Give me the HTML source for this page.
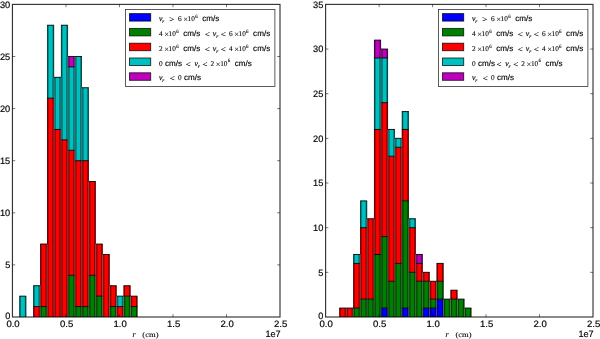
<!DOCTYPE html>
<html><head><meta charset="utf-8"><title>histograms</title>
<style>
html,body{margin:0;padding:0;background:#fff;}
body{width:600px;height:339px;overflow:hidden;font-family:"Liberation Sans",sans-serif;}
svg{display:block;}
text{fill:#000;}
.tk{font-family:"Liberation Sans",sans-serif;font-size:9.2px;stroke:#000;stroke-width:0.18px;}
.sf{font-family:"Liberation Sans",sans-serif;font-size:8.0px;stroke:#000;stroke-width:0.15px;}
.mr{font-family:"Liberation Serif",serif;font-size:7.3px;stroke:#000;stroke-width:0.1px;}
.rel{font-family:"Liberation Serif",serif;font-size:8.2px;stroke:#000;stroke-width:0.12px;}
.mul{font-family:"Liberation Serif",serif;font-size:8.4px;stroke:#000;stroke-width:0.12px;}
.mrs{font-family:"Liberation Serif",serif;font-size:5.0px;stroke:#000;stroke-width:0.08px;}
.mi{font-family:"Liberation Serif",serif;font-style:italic;font-size:7.8px;stroke:#000;stroke-width:0.15px;}
.mis{font-family:"Liberation Serif",serif;font-style:italic;font-size:5.1px;stroke:#000;stroke-width:0.15px;}
</style></head><body>
<svg width="600" height="339" viewBox="0 0 600 339">
<defs><filter id="bl" x="-2%" y="-2%" width="104%" height="104%"><feGaussianBlur stdDeviation="0.45"/></filter><filter id="bt" x="-2%" y="-2%" width="104%" height="104%"><feGaussianBlur stdDeviation="0.22"/></filter></defs>
<rect width="600" height="339" fill="#fff"/>
<g filter="url(#bl)">
<rect x="19.3" y="296.16" width="6.95" height="20.84" fill="#00bfbf"/>
<rect x="33.2" y="306.58" width="6.95" height="10.42" fill="#ff0000"/>
<rect x="33.2" y="285.74" width="6.95" height="20.84" fill="#00bfbf"/>
<rect x="40.15" y="306.58" width="6.95" height="10.42" fill="#008000"/>
<rect x="40.15" y="244.06" width="6.95" height="62.52" fill="#ff0000"/>
<rect x="47.1" y="98.18" width="6.95" height="218.82" fill="#ff0000"/>
<rect x="47.1" y="25.24" width="6.95" height="72.94" fill="#00bfbf"/>
<rect x="54.05" y="129.44" width="6.95" height="187.56" fill="#ff0000"/>
<rect x="54.05" y="77.34" width="6.95" height="52.1" fill="#00bfbf"/>
<rect x="61" y="139.86" width="6.95" height="177.14" fill="#ff0000"/>
<rect x="61" y="25.24" width="6.95" height="114.62" fill="#00bfbf"/>
<rect x="67.95" y="275.32" width="6.95" height="41.68" fill="#008000"/>
<rect x="67.95" y="150.28" width="6.95" height="125.04" fill="#ff0000"/>
<rect x="67.95" y="66.92" width="6.95" height="83.36" fill="#00bfbf"/>
<rect x="67.95" y="56.5" width="6.95" height="10.42" fill="#bf00bf"/>
<rect x="74.9" y="306.58" width="6.95" height="10.42" fill="#008000"/>
<rect x="74.9" y="160.7" width="6.95" height="145.88" fill="#ff0000"/>
<rect x="74.9" y="56.5" width="6.95" height="104.2" fill="#00bfbf"/>
<rect x="81.85" y="306.58" width="6.95" height="10.42" fill="#008000"/>
<rect x="81.85" y="160.7" width="6.95" height="145.88" fill="#ff0000"/>
<rect x="81.85" y="87.76" width="6.95" height="72.94" fill="#00bfbf"/>
<rect x="88.8" y="275.32" width="6.95" height="41.68" fill="#008000"/>
<rect x="88.8" y="181.54" width="6.95" height="93.78" fill="#ff0000"/>
<rect x="95.75" y="296.16" width="6.95" height="20.84" fill="#008000"/>
<rect x="95.75" y="244.06" width="6.95" height="52.1" fill="#ff0000"/>
<rect x="102.7" y="254.48" width="6.95" height="62.52" fill="#ff0000"/>
<rect x="109.65" y="306.58" width="6.95" height="10.42" fill="#008000"/>
<rect x="109.65" y="285.74" width="6.95" height="20.84" fill="#ff0000"/>
<rect x="116.6" y="306.58" width="6.95" height="10.42" fill="#ff0000"/>
<rect x="116.6" y="296.16" width="6.95" height="10.42" fill="#00bfbf"/>
<rect x="123.55" y="296.16" width="6.95" height="20.84" fill="#008000"/>
<rect x="123.55" y="285.74" width="6.95" height="10.42" fill="#ff0000"/>
<rect x="130.5" y="306.58" width="6.95" height="10.42" fill="#008000"/>
<rect x="130.5" y="296.16" width="6.95" height="10.42" fill="#ff0000"/>
<path d="M39.3 317V285.74M41 317V285.74M46.25 317V244.06M47.95 317V244.06M53.2 317V77.34M54.9 317V77.34M60.15 317V77.34M61.85 317V77.34M67.1 317V56.5M68.8 317V56.5M74.05 317V56.5M75.75 317V56.5M81 317V87.76M82.7 317V87.76M87.95 317V181.54M89.65 317V181.54M94.9 317V244.06M96.6 317V244.06M101.85 317V254.48M103.55 317V254.48M108.8 317V285.74M110.5 317V285.74M115.75 317V296.16M117.45 317V296.16M122.7 317V296.16M124.4 317V296.16M129.65 317V296.16M131.35 317V296.16" stroke="#000" stroke-width="1.7" stroke-opacity="0.45" fill="none"/>
<path d="M19.9 317V296.16M25.65 317V296.16M33.8 317V285.74M40.75 285.74V244.06M47.7 244.06V25.24M53.45 77.34V25.24M61.6 77.34V25.24M67.35 56.5V25.24M81.25 87.76V56.5M88.2 181.54V87.76M95.15 244.06V181.54M102.1 254.48V244.06M109.05 285.74V254.48M116 296.16V285.74M124.15 296.16V285.74M129.9 296.16V285.74M136.85 317V296.16" stroke="#000" stroke-width="1.5" stroke-opacity="0.62" fill="none"/>
<path d="M19.3 296.16h6.95M33.2 306.58h6.95M33.2 285.74h6.95M40.15 306.58h6.95M40.15 244.06h6.95M47.1 98.18h6.95M47.1 25.24h6.95M54.05 129.44h6.95M54.05 77.34h6.95M61 139.86h6.95M61 25.24h6.95M67.95 275.32h6.95M67.95 150.28h6.95M67.95 66.92h6.95M67.95 56.5h6.95M74.9 306.58h6.95M74.9 160.7h6.95M74.9 56.5h6.95M81.85 306.58h6.95M81.85 160.7h6.95M81.85 87.76h6.95M88.8 275.32h6.95M88.8 181.54h6.95M95.75 296.16h6.95M95.75 244.06h6.95M102.7 254.48h6.95M109.65 306.58h6.95M109.65 285.74h6.95M116.6 306.58h6.95M116.6 296.16h6.95M123.55 296.16h6.95M123.55 285.74h6.95M130.5 306.58h6.95M130.5 296.16h6.95" stroke="#000" stroke-width="1.0" stroke-opacity="0.9" fill="none"/>
<path d="M40.15 317V285.74M47.1 317V244.06M54.05 317V77.34M61 317V77.34M67.95 317V56.5M74.9 317V56.5M81.85 317V87.76M88.8 317V181.54M95.75 317V244.06M102.7 317V254.48M109.65 317V285.74M116.6 317V296.16M123.55 317V296.16M130.5 317V296.16" stroke="#fff" stroke-width="0.6" stroke-opacity="0.3" fill="none"/>
<rect x="339.3" y="308.07" width="6.95" height="8.93" fill="#ff0000"/>
<rect x="346.25" y="308.07" width="6.95" height="8.93" fill="#ff0000"/>
<rect x="353.2" y="308.07" width="6.95" height="8.93" fill="#008000"/>
<rect x="353.2" y="263.41" width="6.95" height="44.66" fill="#ff0000"/>
<rect x="353.2" y="254.48" width="6.95" height="8.93" fill="#00bfbf"/>
<rect x="360.15" y="299.14" width="6.95" height="17.86" fill="#008000"/>
<rect x="360.15" y="227.69" width="6.95" height="71.45" fill="#ff0000"/>
<rect x="360.15" y="200.89" width="6.95" height="26.79" fill="#00bfbf"/>
<rect x="367.1" y="299.14" width="6.95" height="17.86" fill="#008000"/>
<rect x="367.1" y="218.75" width="6.95" height="80.38" fill="#ff0000"/>
<rect x="374.05" y="254.48" width="6.95" height="62.52" fill="#008000"/>
<rect x="374.05" y="129.44" width="6.95" height="125.04" fill="#ff0000"/>
<rect x="374.05" y="57.99" width="6.95" height="71.45" fill="#00bfbf"/>
<rect x="374.05" y="40.13" width="6.95" height="17.86" fill="#bf00bf"/>
<rect x="381" y="308.07" width="6.95" height="8.93" fill="#0000ff"/>
<rect x="381" y="236.62" width="6.95" height="71.45" fill="#008000"/>
<rect x="381" y="102.65" width="6.95" height="133.97" fill="#ff0000"/>
<rect x="381" y="57.99" width="6.95" height="44.66" fill="#00bfbf"/>
<rect x="381" y="49.06" width="6.95" height="8.93" fill="#bf00bf"/>
<rect x="387.95" y="281.27" width="6.95" height="35.73" fill="#008000"/>
<rect x="387.95" y="156.23" width="6.95" height="125.04" fill="#ff0000"/>
<rect x="387.95" y="129.44" width="6.95" height="26.79" fill="#00bfbf"/>
<rect x="394.9" y="263.41" width="6.95" height="53.59" fill="#008000"/>
<rect x="394.9" y="147.3" width="6.95" height="116.11" fill="#ff0000"/>
<rect x="394.9" y="138.37" width="6.95" height="8.93" fill="#00bfbf"/>
<rect x="401.85" y="308.07" width="6.95" height="8.93" fill="#0000ff"/>
<rect x="401.85" y="200.89" width="6.95" height="107.18" fill="#008000"/>
<rect x="401.85" y="129.44" width="6.95" height="71.45" fill="#ff0000"/>
<rect x="401.85" y="111.58" width="6.95" height="17.86" fill="#00bfbf"/>
<rect x="408.8" y="272.34" width="6.95" height="44.66" fill="#008000"/>
<rect x="408.8" y="227.69" width="6.95" height="44.66" fill="#ff0000"/>
<rect x="408.8" y="218.75" width="6.95" height="8.93" fill="#00bfbf"/>
<rect x="415.75" y="281.27" width="6.95" height="35.73" fill="#008000"/>
<rect x="415.75" y="263.41" width="6.95" height="17.86" fill="#ff0000"/>
<rect x="415.75" y="254.48" width="6.95" height="8.93" fill="#bf00bf"/>
<rect x="422.7" y="308.07" width="6.95" height="8.93" fill="#0000ff"/>
<rect x="422.7" y="281.27" width="6.95" height="26.79" fill="#008000"/>
<rect x="422.7" y="272.34" width="6.95" height="8.93" fill="#ff0000"/>
<rect x="429.65" y="308.07" width="6.95" height="8.93" fill="#0000ff"/>
<rect x="429.65" y="299.14" width="6.95" height="8.93" fill="#008000"/>
<rect x="429.65" y="281.27" width="6.95" height="17.86" fill="#ff0000"/>
<rect x="436.6" y="299.14" width="6.95" height="17.86" fill="#0000ff"/>
<rect x="436.6" y="281.27" width="6.95" height="17.86" fill="#008000"/>
<rect x="436.6" y="263.41" width="6.95" height="17.86" fill="#ff0000"/>
<rect x="443.55" y="299.14" width="6.95" height="17.86" fill="#008000"/>
<rect x="450.5" y="299.14" width="6.95" height="17.86" fill="#008000"/>
<rect x="450.5" y="290.21" width="6.95" height="8.93" fill="#ff0000"/>
<rect x="457.45" y="299.14" width="6.95" height="17.86" fill="#008000"/>
<rect x="464.4" y="308.07" width="6.95" height="8.93" fill="#008000"/>
<path d="M345.4 317V308.07M347.1 317V308.07M352.35 317V308.07M354.05 317V308.07M359.3 317V254.48M361 317V254.48M366.25 317V218.75M367.95 317V218.75M373.2 317V218.75M374.9 317V218.75M380.15 317V49.06M381.85 317V49.06M387.1 317V129.44M388.8 317V129.44M394.05 317V138.37M395.75 317V138.37M401 317V138.37M402.7 317V138.37M407.95 317V218.75M409.65 317V218.75M414.9 317V254.48M416.6 317V254.48M421.85 317V272.34M423.55 317V272.34M428.8 317V281.27M430.5 317V281.27M435.75 317V281.27M437.45 317V281.27M442.7 317V299.14M444.4 317V299.14M449.65 317V299.14M451.35 317V299.14M456.6 317V299.14M458.3 317V299.14M463.55 317V308.07M465.25 317V308.07" stroke="#000" stroke-width="1.7" stroke-opacity="0.45" fill="none"/>
<path d="M339.9 317V308.07M353.8 308.07V254.48M360.75 254.48V200.89M366.5 218.75V200.89M374.65 218.75V40.13M380.4 49.06V40.13M387.35 129.44V49.06M394.3 138.37V129.44M402.45 138.37V111.58M408.2 218.75V111.58M415.15 254.48V218.75M422.1 272.34V254.48M429.05 281.27V272.34M437.2 281.27V263.41M442.95 299.14V263.41M451.1 299.14V290.21M456.85 299.14V290.21M463.8 308.07V299.14M470.75 317V308.07" stroke="#000" stroke-width="1.5" stroke-opacity="0.62" fill="none"/>
<path d="M339.3 308.07h6.95M346.25 308.07h6.95M353.2 308.07h6.95M353.2 263.41h6.95M353.2 254.48h6.95M360.15 299.14h6.95M360.15 227.69h6.95M360.15 200.89h6.95M367.1 299.14h6.95M367.1 218.75h6.95M374.05 254.48h6.95M374.05 129.44h6.95M374.05 57.99h6.95M374.05 40.13h6.95M381 308.07h6.95M381 236.62h6.95M381 102.65h6.95M381 57.99h6.95M381 49.06h6.95M387.95 281.27h6.95M387.95 156.23h6.95M387.95 129.44h6.95M394.9 263.41h6.95M394.9 147.3h6.95M394.9 138.37h6.95M401.85 308.07h6.95M401.85 200.89h6.95M401.85 129.44h6.95M401.85 111.58h6.95M408.8 272.34h6.95M408.8 227.69h6.95M408.8 218.75h6.95M415.75 281.27h6.95M415.75 263.41h6.95M415.75 254.48h6.95M422.7 308.07h6.95M422.7 281.27h6.95M422.7 272.34h6.95M429.65 308.07h6.95M429.65 299.14h6.95M429.65 281.27h6.95M436.6 299.14h6.95M436.6 281.27h6.95M436.6 263.41h6.95M443.55 299.14h6.95M450.5 299.14h6.95M450.5 290.21h6.95M457.45 299.14h6.95M464.4 308.07h6.95" stroke="#000" stroke-width="1.0" stroke-opacity="0.9" fill="none"/>
<path d="M346.25 317V308.07M353.2 317V308.07M360.15 317V254.48M367.1 317V218.75M374.05 317V218.75M381 317V49.06M387.95 317V129.44M394.9 317V138.37M401.85 317V138.37M408.8 317V218.75M415.75 317V254.48M422.7 317V272.34M429.65 317V281.27M436.6 317V281.27M443.55 317V299.14M450.5 317V299.14M457.45 317V299.14M464.4 317V308.07" stroke="#fff" stroke-width="0.6" stroke-opacity="0.3" fill="none"/>
<rect x="12.45" y="4.4" width="267.55" height="312.6" fill="none" stroke="#000" stroke-width="1.15" stroke-opacity="0.8"/>
<path d="M65.96 317v-2.8M65.96 4.4v2.8M119.47 317v-2.8M119.47 4.4v2.8M172.98 317v-2.8M172.98 4.4v2.8M226.49 317v-2.8M226.49 4.4v2.8M12.45 264.9h2.8M280 264.9h-2.8M12.45 212.8h2.8M280 212.8h-2.8M12.45 160.7h2.8M280 160.7h-2.8M12.45 108.6h2.8M280 108.6h-2.8M12.45 56.5h2.8M280 56.5h-2.8" stroke="#000" stroke-width="0.6" stroke-opacity="0.9" fill="none"/>
<rect x="325.6" y="4.4" width="267.4" height="312.6" fill="none" stroke="#000" stroke-width="1.15" stroke-opacity="0.8"/>
<path d="M379.08 317v-2.8M379.08 4.4v2.8M432.56 317v-2.8M432.56 4.4v2.8M486.04 317v-2.8M486.04 4.4v2.8M539.52 317v-2.8M539.52 4.4v2.8M325.6 272.34h2.8M593 272.34h-2.8M325.6 227.69h2.8M593 227.69h-2.8M325.6 183.03h2.8M593 183.03h-2.8M325.6 138.37h2.8M593 138.37h-2.8M325.6 93.71h2.8M593 93.71h-2.8M325.6 49.06h2.8M593 49.06h-2.8" stroke="#000" stroke-width="0.6" stroke-opacity="0.9" fill="none"/>
<rect x="125.5" y="9.4" width="149.4" height="77.1" fill="#fff" stroke="#000" stroke-width="0.75" stroke-opacity="0.85"/>
<rect x="129.5" y="13.6" width="21.2" height="7.5" fill="#0000ff" stroke="#000" stroke-width="0.9" stroke-opacity="0.8"/>
<rect x="129.5" y="28.4" width="21.2" height="7.5" fill="#008000" stroke="#000" stroke-width="0.9" stroke-opacity="0.8"/>
<rect x="129.5" y="43.2" width="21.2" height="7.5" fill="#ff0000" stroke="#000" stroke-width="0.9" stroke-opacity="0.8"/>
<rect x="129.5" y="58" width="21.2" height="7.5" fill="#00bfbf" stroke="#000" stroke-width="0.9" stroke-opacity="0.8"/>
<rect x="129.5" y="72.8" width="21.2" height="7.5" fill="#bf00bf" stroke="#000" stroke-width="0.9" stroke-opacity="0.8"/>
<rect x="438.5" y="9.4" width="149.4" height="77.1" fill="#fff" stroke="#000" stroke-width="0.75" stroke-opacity="0.85"/>
<rect x="442.5" y="13.6" width="21.2" height="7.5" fill="#0000ff" stroke="#000" stroke-width="0.9" stroke-opacity="0.8"/>
<rect x="442.5" y="28.4" width="21.2" height="7.5" fill="#008000" stroke="#000" stroke-width="0.9" stroke-opacity="0.8"/>
<rect x="442.5" y="43.2" width="21.2" height="7.5" fill="#ff0000" stroke="#000" stroke-width="0.9" stroke-opacity="0.8"/>
<rect x="442.5" y="58" width="21.2" height="7.5" fill="#00bfbf" stroke="#000" stroke-width="0.9" stroke-opacity="0.8"/>
<rect x="442.5" y="72.8" width="21.2" height="7.5" fill="#bf00bf" stroke="#000" stroke-width="0.9" stroke-opacity="0.8"/>
</g>
<g filter="url(#bt)" text-rendering="geometricPrecision">
<text x="13.05" y="326.7" text-anchor="middle" textLength="13.3" lengthAdjust="spacingAndGlyphs" class="tk">0.0</text>
<text x="66.56" y="326.7" text-anchor="middle" textLength="13.3" lengthAdjust="spacingAndGlyphs" class="tk">0.5</text>
<text x="120.07" y="326.7" text-anchor="middle" textLength="13.3" lengthAdjust="spacingAndGlyphs" class="tk">1.0</text>
<text x="173.58" y="326.7" text-anchor="middle" textLength="13.3" lengthAdjust="spacingAndGlyphs" class="tk">1.5</text>
<text x="227.09" y="326.7" text-anchor="middle" textLength="13.3" lengthAdjust="spacingAndGlyphs" class="tk">2.0</text>
<text x="280.6" y="326.7" text-anchor="middle" textLength="13.3" lengthAdjust="spacingAndGlyphs" class="tk">2.5</text>
<text x="10.25" y="318.7" text-anchor="end" textLength="5.1" lengthAdjust="spacingAndGlyphs" class="tk">0</text>
<text x="10.25" y="268.15" text-anchor="end" textLength="5.1" lengthAdjust="spacingAndGlyphs" class="tk">5</text>
<text x="10.25" y="216.05" text-anchor="end" textLength="10.3" lengthAdjust="spacingAndGlyphs" class="tk">10</text>
<text x="10.25" y="163.95" text-anchor="end" textLength="10.3" lengthAdjust="spacingAndGlyphs" class="tk">15</text>
<text x="10.25" y="111.85" text-anchor="end" textLength="10.3" lengthAdjust="spacingAndGlyphs" class="tk">20</text>
<text x="10.25" y="59.75" text-anchor="end" textLength="10.3" lengthAdjust="spacingAndGlyphs" class="tk">25</text>
<text x="10.25" y="7.65" text-anchor="end" textLength="10.3" lengthAdjust="spacingAndGlyphs" class="tk">30</text>
<text x="280.7" y="336.9" text-anchor="end" textLength="15.2" lengthAdjust="spacingAndGlyphs" class="tk">1e7</text>
<text x="132.42" y="336.8" class="mi">r</text>
<text x="142.32" y="336.7" class="mr" textLength="16.2" lengthAdjust="spacingAndGlyphs">(cm)</text>
<text x="326.2" y="326.7" text-anchor="middle" textLength="13.3" lengthAdjust="spacingAndGlyphs" class="tk">0.0</text>
<text x="379.68" y="326.7" text-anchor="middle" textLength="13.3" lengthAdjust="spacingAndGlyphs" class="tk">0.5</text>
<text x="433.16" y="326.7" text-anchor="middle" textLength="13.3" lengthAdjust="spacingAndGlyphs" class="tk">1.0</text>
<text x="486.64" y="326.7" text-anchor="middle" textLength="13.3" lengthAdjust="spacingAndGlyphs" class="tk">1.5</text>
<text x="540.12" y="326.7" text-anchor="middle" textLength="13.3" lengthAdjust="spacingAndGlyphs" class="tk">2.0</text>
<text x="593.6" y="326.7" text-anchor="middle" textLength="13.3" lengthAdjust="spacingAndGlyphs" class="tk">2.5</text>
<text x="323.4" y="318.7" text-anchor="end" textLength="5.1" lengthAdjust="spacingAndGlyphs" class="tk">0</text>
<text x="323.4" y="275.59" text-anchor="end" textLength="5.1" lengthAdjust="spacingAndGlyphs" class="tk">5</text>
<text x="323.4" y="230.94" text-anchor="end" textLength="10.3" lengthAdjust="spacingAndGlyphs" class="tk">10</text>
<text x="323.4" y="186.28" text-anchor="end" textLength="10.3" lengthAdjust="spacingAndGlyphs" class="tk">15</text>
<text x="323.4" y="141.62" text-anchor="end" textLength="10.3" lengthAdjust="spacingAndGlyphs" class="tk">20</text>
<text x="323.4" y="96.96" text-anchor="end" textLength="10.3" lengthAdjust="spacingAndGlyphs" class="tk">25</text>
<text x="323.4" y="52.31" text-anchor="end" textLength="10.3" lengthAdjust="spacingAndGlyphs" class="tk">30</text>
<text x="323.4" y="7.65" text-anchor="end" textLength="10.3" lengthAdjust="spacingAndGlyphs" class="tk">35</text>
<text x="593.7" y="336.9" text-anchor="end" textLength="15.2" lengthAdjust="spacingAndGlyphs" class="tk">1e7</text>
<text x="445.5" y="336.8" class="mi">r</text>
<text x="455.4" y="336.7" class="mr" textLength="16.2" lengthAdjust="spacingAndGlyphs">(cm)</text>
<text x="159" y="21.1" class="mi">v</text>
<text x="162.35" y="23.2" class="mis">r</text>
<text x="169.25" y="22.1" class="rel" textLength="5.0" lengthAdjust="spacingAndGlyphs">&gt;</text>
<text x="178" y="21.1" class="mr">6</text>
<text x="183.25" y="22.1" class="mul">×</text>
<text x="187.6" y="21.1" class="mr">10</text>
<text x="195.2" y="18" class="mrs">6</text>
<text x="202.2" y="21.1" class="sf" textLength="17.1" lengthAdjust="spacingAndGlyphs">cm/s</text>
<text x="159" y="35.9" class="mr">4</text>
<text x="164.25" y="36.9" class="mul">×</text>
<text x="168.6" y="35.9" class="mr">10</text>
<text x="176.2" y="32.8" class="mrs">6</text>
<text x="183.2" y="35.9" class="sf" textLength="17.1" lengthAdjust="spacingAndGlyphs">cm/s</text>
<text x="204.65" y="36.9" class="rel" textLength="5.0" lengthAdjust="spacingAndGlyphs">&lt;</text>
<text x="212.8" y="35.9" class="mi">v</text>
<text x="216.15" y="38" class="mis">r</text>
<text x="220.85" y="36.9" class="rel" textLength="5.0" lengthAdjust="spacingAndGlyphs">&lt;</text>
<text x="228.9" y="35.9" class="mr">6</text>
<text x="234.15" y="36.9" class="mul">×</text>
<text x="238.5" y="35.9" class="mr">10</text>
<text x="246.1" y="32.8" class="mrs">6</text>
<text x="253.1" y="35.9" class="sf" textLength="17.1" lengthAdjust="spacingAndGlyphs">cm/s</text>
<text x="159" y="50.7" class="mr">2</text>
<text x="164.25" y="51.7" class="mul">×</text>
<text x="168.6" y="50.7" class="mr">10</text>
<text x="176.2" y="47.6" class="mrs">6</text>
<text x="183.2" y="50.7" class="sf" textLength="17.1" lengthAdjust="spacingAndGlyphs">cm/s</text>
<text x="204.65" y="51.7" class="rel" textLength="5.0" lengthAdjust="spacingAndGlyphs">&lt;</text>
<text x="212.8" y="50.7" class="mi">v</text>
<text x="216.15" y="52.8" class="mis">r</text>
<text x="220.85" y="51.7" class="rel" textLength="5.0" lengthAdjust="spacingAndGlyphs">&lt;</text>
<text x="228.9" y="50.7" class="mr">4</text>
<text x="234.15" y="51.7" class="mul">×</text>
<text x="238.5" y="50.7" class="mr">10</text>
<text x="246.1" y="47.6" class="mrs">6</text>
<text x="253.1" y="50.7" class="sf" textLength="17.1" lengthAdjust="spacingAndGlyphs">cm/s</text>
<text x="159" y="65.5" class="mr">0</text>
<text x="165" y="65.5" class="sf" textLength="17.1" lengthAdjust="spacingAndGlyphs">cm/s</text>
<text x="185.85" y="66.5" class="rel" textLength="5.0" lengthAdjust="spacingAndGlyphs">&lt;</text>
<text x="194.5" y="65.5" class="mi">v</text>
<text x="197.85" y="67.6" class="mis">r</text>
<text x="202.45" y="66.5" class="rel" textLength="5.0" lengthAdjust="spacingAndGlyphs">&lt;</text>
<text x="210.6" y="65.5" class="mr">2</text>
<text x="215.85" y="66.5" class="mul">×</text>
<text x="220.2" y="65.5" class="mr">10</text>
<text x="227.8" y="62.4" class="mrs">6</text>
<text x="234.8" y="65.5" class="sf" textLength="17.1" lengthAdjust="spacingAndGlyphs">cm/s</text>
<text x="159" y="80.3" class="mi">v</text>
<text x="162.35" y="82.4" class="mis">r</text>
<text x="169.65" y="81.3" class="rel" textLength="5.0" lengthAdjust="spacingAndGlyphs">&lt;</text>
<text x="178" y="80.3" class="mr">0</text>
<text x="183.9" y="80.3" class="sf" textLength="17.1" lengthAdjust="spacingAndGlyphs">cm/s</text>
<text x="472" y="21.1" class="mi">v</text>
<text x="475.35" y="23.2" class="mis">r</text>
<text x="482.25" y="22.1" class="rel" textLength="5.0" lengthAdjust="spacingAndGlyphs">&gt;</text>
<text x="491" y="21.1" class="mr">6</text>
<text x="496.25" y="22.1" class="mul">×</text>
<text x="500.6" y="21.1" class="mr">10</text>
<text x="508.2" y="18" class="mrs">6</text>
<text x="515.2" y="21.1" class="sf" textLength="17.1" lengthAdjust="spacingAndGlyphs">cm/s</text>
<text x="472" y="35.9" class="mr">4</text>
<text x="477.25" y="36.9" class="mul">×</text>
<text x="481.6" y="35.9" class="mr">10</text>
<text x="489.2" y="32.8" class="mrs">6</text>
<text x="496.2" y="35.9" class="sf" textLength="17.1" lengthAdjust="spacingAndGlyphs">cm/s</text>
<text x="517.65" y="36.9" class="rel" textLength="5.0" lengthAdjust="spacingAndGlyphs">&lt;</text>
<text x="525.8" y="35.9" class="mi">v</text>
<text x="529.15" y="38" class="mis">r</text>
<text x="533.85" y="36.9" class="rel" textLength="5.0" lengthAdjust="spacingAndGlyphs">&lt;</text>
<text x="541.9" y="35.9" class="mr">6</text>
<text x="547.15" y="36.9" class="mul">×</text>
<text x="551.5" y="35.9" class="mr">10</text>
<text x="559.1" y="32.8" class="mrs">6</text>
<text x="566.1" y="35.9" class="sf" textLength="17.1" lengthAdjust="spacingAndGlyphs">cm/s</text>
<text x="472" y="50.7" class="mr">2</text>
<text x="477.25" y="51.7" class="mul">×</text>
<text x="481.6" y="50.7" class="mr">10</text>
<text x="489.2" y="47.6" class="mrs">6</text>
<text x="496.2" y="50.7" class="sf" textLength="17.1" lengthAdjust="spacingAndGlyphs">cm/s</text>
<text x="517.65" y="51.7" class="rel" textLength="5.0" lengthAdjust="spacingAndGlyphs">&lt;</text>
<text x="525.8" y="50.7" class="mi">v</text>
<text x="529.15" y="52.8" class="mis">r</text>
<text x="533.85" y="51.7" class="rel" textLength="5.0" lengthAdjust="spacingAndGlyphs">&lt;</text>
<text x="541.9" y="50.7" class="mr">4</text>
<text x="547.15" y="51.7" class="mul">×</text>
<text x="551.5" y="50.7" class="mr">10</text>
<text x="559.1" y="47.6" class="mrs">6</text>
<text x="566.1" y="50.7" class="sf" textLength="17.1" lengthAdjust="spacingAndGlyphs">cm/s</text>
<text x="472" y="65.5" class="mr">0</text>
<text x="478" y="65.5" class="sf" textLength="17.1" lengthAdjust="spacingAndGlyphs">cm/s</text>
<text x="496.55" y="66.5" class="rel" textLength="5.0" lengthAdjust="spacingAndGlyphs">&lt;</text>
<text x="505.2" y="65.5" class="mi">v</text>
<text x="508.55" y="67.6" class="mis">r</text>
<text x="513.15" y="66.5" class="rel" textLength="5.0" lengthAdjust="spacingAndGlyphs">&lt;</text>
<text x="521.3" y="65.5" class="mr">2</text>
<text x="526.55" y="66.5" class="mul">×</text>
<text x="530.9" y="65.5" class="mr">10</text>
<text x="538.5" y="62.4" class="mrs">6</text>
<text x="545.5" y="65.5" class="sf" textLength="17.1" lengthAdjust="spacingAndGlyphs">cm/s</text>
<text x="472" y="80.3" class="mi">v</text>
<text x="475.35" y="82.4" class="mis">r</text>
<text x="482.65" y="81.3" class="rel" textLength="5.0" lengthAdjust="spacingAndGlyphs">&lt;</text>
<text x="491" y="80.3" class="mr">0</text>
<text x="496.9" y="80.3" class="sf" textLength="17.1" lengthAdjust="spacingAndGlyphs">cm/s</text>
</g>
</svg>
</body></html>
